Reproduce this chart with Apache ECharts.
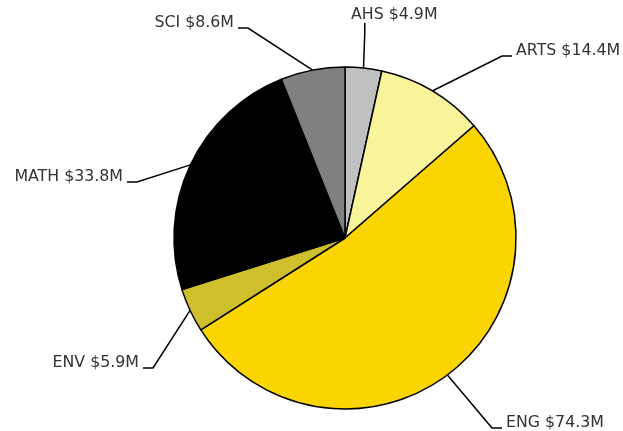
<!DOCTYPE html>
<html>
<head>
<meta charset="utf-8">
<script src="https://cdn.jsdelivr.net/npm/echarts@6/dist/echarts.min.js"></script>
<style>
html,body{margin:0;padding:0;background:#fff;}
#chart{width:623px;height:431px;}
</style>
</head>
<body>
<div id="chart"></div>
<script>
// Data
var categories = ['AHS', 'ARTS', 'ENG', 'ENV', 'MATH', 'SCI'];
var values = [4.9, 14.4, 74.3, 5.9, 33.8, 8.6];

// Styles
var sliceColors = ['#c0c0c0', '#f8f49c', '#fad500', '#cfbf2c', '#000000', '#808080'];

// Label placement (layout only): anchor point of each label box
var labelSpots = {
  AHS:  {x: 292, y: 23,  align: 'left',  verticalAlign: 'bottom'},
  ARTS: {x: 512, y: 56,  align: 'left',  verticalAlign: 'middle'},
  ENG:  {x: 502, y: 428, align: 'left',  verticalAlign: 'middle'},
  ENV:  {x: 143, y: 368, align: 'right', verticalAlign: 'middle'},
  MATH: {x: 127, y: 182, align: 'right', verticalAlign: 'middle'},
  SCI:  {x: 238, y: 28,  align: 'right', verticalAlign: 'middle'}
};
var labelPads = {
  AHS: [0, 0, 0, 59]
};

var chart = echarts.init(document.getElementById('chart'), null, {renderer: 'canvas'});

var seriesData = categories.map(function (c, i) {
  var item = {name: c, value: values[i], itemStyle: {color: sliceColors[i]}};
  if (labelPads[c]) item.label = {padding: labelPads[c]};
  return item;
});

chart.setOption({
  animation: false,
  series: [{
    type: 'pie',
    center: [345, 238],
    radius: 171,
    startAngle: 90,
    clockwise: true,
    avoidLabelOverlap: false,
    data: seriesData,
    itemStyle: {borderColor: '#000', borderWidth: 1.5},
    emphasis: {disabled: true},
    label: {
      show: true,
      formatter: function (p) {
        var txt = '{t|' + p.name + ' $' + p.value.toFixed(1) + 'M}';
        return labelSpots[p.name].verticalAlign === 'middle' ? txt + '\n{s| }' : txt;
      },
      rich: {
        t: {fontFamily: 'DejaVu Sans', fontSize: 15.8, color: '#333'},
        s: {fontSize: 1, height: 10, lineHeight: 10}
      },
      padding: [0, 4, 0, 4],
      backgroundColor: 'rgba(0,0,0,0)'
    },
    labelLine: {
      show: true,
      length: 20,
      length2: 10,
      lineStyle: {color: '#000', width: 1.5}
    },
    labelLayout: function (params) {
      var s = labelSpots[categories[params.dataIndex]];
      return {x: s.x, y: s.y, align: s.align, verticalAlign: s.verticalAlign};
    }
  }]
});
</script>
</body>
</html>
